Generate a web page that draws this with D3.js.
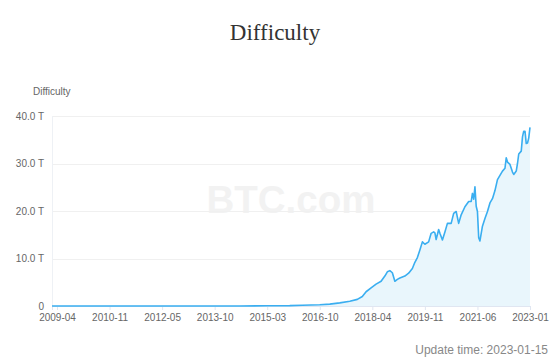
<!DOCTYPE html>
<html><head><meta charset="utf-8">
<script src="https://cdn.jsdelivr.net/npm/d3@7"></script>
<style>html,body{margin:0;padding:0;background:#fff;}svg{display:block;}</style>
</head><body>
<svg id="c" width="550" height="358"></svg>
<script>
// ---- data ----
// x categories: difficulty retarget epochs (index 0..382), labels shown every 42 epochs
const epochCount = 383;
const tickIndex = [4, 46, 88, 130, 172, 214, 256, 298, 340, 382];
const tickLabels = ["2009-04","2010-11","2012-05","2013-10","2015-03","2016-10","2018-04","2019-11","2021-06","2023-01"];
const yTicks = [0, 10, 20, 30, 40];
// sampled epochs and difficulty (T)
const epochs = [0,60,100,130,150,172,190,200,214,222,230,238,244,248,251,255,259,263,266,268,270,272,274,276,278,282,285,288,290,292,294,296,298,301,303,305,306,307,309,310,312,314,316,319,321,323,325,327,330,333,335,336,337,338,339,340,341,342,344,346,348,350,352,354,356,358,360,362,363,364,366,368,369,371,372,373,375,376,377,378,379,380,381,382];
const difficulty = [0,0,0.000002,0.0003,0.012,0.047,0.07,0.17,0.25,0.4,0.65,1.0,1.4,2.0,3.0,3.8,4.6,5.2,6.3,7.2,7.45,7.0,5.2,5.6,5.9,6.3,6.9,7.9,9.2,10.2,11.8,13.5,13.0,13.5,15.3,15.6,15.4,14.0,16.1,15.3,13.9,15.6,17.4,17.4,19.5,19.9,17.4,19.2,20.9,22.0,22.0,23.7,22.5,25.1,21.0,19.9,14.4,13.7,16.8,18.4,19.9,21.7,22.6,24.3,26.6,27.5,28.4,29.0,31.2,30.3,29.8,28.2,27.7,28.4,30.0,32.0,32.6,35.6,36.8,36.8,34.2,34.3,35.4,37.6];
const titleText = "Difficulty";
const yName = "Difficulty";
const updateText = "Update time: 2023-01-15";

// ---- layout ----
const svg = d3.select("#c");
const W = 550, H = 358;
const m = {left: 52, right: 20, top: 116, bottom: 52};
const x = d3.scaleLinear().domain([0, epochCount - 1]).range([m.left, W - m.right]);
const y = d3.scaleLinear().domain([0, 40]).range([H - m.bottom, m.top]);
const pts = epochs.map((e, i) => [e, difficulty[i]]);

// title
svg.append("text").attr("x", 275).attr("y", 39.5).attr("text-anchor", "middle")
  .attr("font-family", "'Liberation Serif','Times New Roman',serif").attr("font-size", 23)
  .attr("fill", "#333").text(titleText);

// watermark
svg.append("text").attr("x", 291).attr("y", 213).attr("text-anchor", "middle")
  .attr("font-family", "'Liberation Sans',Arial,sans-serif").attr("font-weight", "bold")
  .attr("font-size", 38.5).attr("fill", "#f2f2f2").text("BTC.com");

// grid
svg.append("g").selectAll("line").data(yTicks.filter(d => d > 0)).join("line")
  .attr("x1", x.range()[0]).attr("x2", x.range()[1])
  .attr("y1", d => Math.round(y(d)) + 0.5).attr("y2", d => Math.round(y(d)) + 0.5)
  .attr("stroke", "#f0f0f0").attr("stroke-width", 1);

// left axis line
svg.append("line").attr("x1", m.left + 0.5).attr("x2", m.left + 0.5)
  .attr("y1", y(40)).attr("y2", y(0)).attr("stroke", "#eef1f5");

// y labels
svg.append("g").selectAll("text").data(yTicks).join("text")
  .attr("x", 44).attr("y", d => y(d)).attr("dy", "0.35em").attr("text-anchor", "end")
  .attr("font-family", "'Liberation Sans',Arial,sans-serif").attr("font-size", 10)
  .attr("fill", "#666").text(d => d === 0 ? "0" : d.toFixed(1) + " T");

svg.append("text").attr("x", 33).attr("y", 94.5)
  .attr("font-family", "'Liberation Sans',Arial,sans-serif").attr("font-size", 10)
  .attr("fill", "#666").text(yName);

// area + line
const area = d3.area().x(d => x(d[0])).y0(y(0)).y1(d => y(d[1]));
const line = d3.line().x(d => x(d[0])).y(d => y(d[1]));
svg.append("path").datum(pts).attr("d", area).attr("fill", "#e9f6fc");

// x axis
const xAxis = d3.axisBottom(x).tickValues(tickIndex).tickSize(4)
  .tickFormat((d, i) => tickLabels[i]);
const gx = svg.append("g").attr("transform", `translate(0,${y(0)})`).call(xAxis);
gx.select(".domain").attr("stroke", "#e0e6f1");
gx.selectAll(".tick line").attr("stroke", "#e0e6f1");
gx.selectAll(".tick text").attr("font-family", "'Liberation Sans',Arial,sans-serif")
  .attr("font-size", 10).attr("fill", "#666").attr("y", 8);

svg.append("path").datum(pts).attr("d", line).attr("fill", "none")
  .attr("stroke", "#3aaef0").attr("stroke-width", 1.6).attr("stroke-linejoin", "round");

// update time
svg.append("text").attr("x", 548).attr("y", 354).attr("text-anchor", "end")
  .attr("font-family", "'Liberation Sans',Arial,sans-serif").attr("font-size", 12)
  .attr("fill", "#888").text(updateText);
</script>
</body></html>
